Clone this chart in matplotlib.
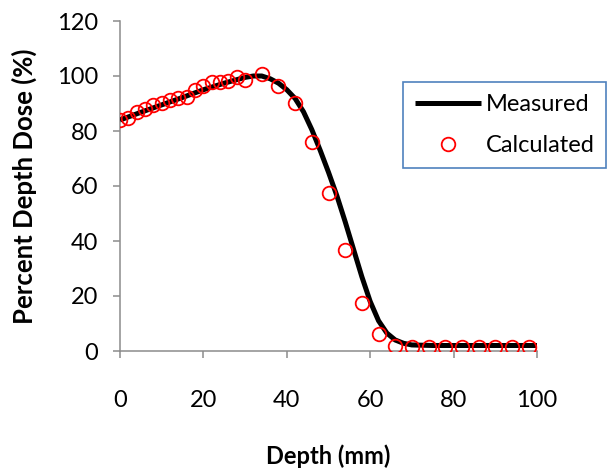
import matplotlib
matplotlib.use("Agg")
import matplotlib.pyplot as plt

plt.rcParams['font.family'] = ['Lato', 'DejaVu Sans']

# measured depth dose curve
measured_depth = [0, 5, 10, 15, 20, 25, 30, 32, 34, 36, 38, 40, 42, 44, 46, 48, 50,
                  52, 54, 56, 58, 60, 62, 64, 66, 68, 70, 75, 80, 90, 100]
measured_pdd = [84.0, 86.8, 89.5, 92.2, 95.0, 97.4, 99.5, 100.0, 100.0, 99.0, 97.4,
                95.0, 91.8, 87.0, 80.5, 73.0, 65.0, 56.5, 47.0, 37.0, 27.0, 18.0,
                11.0, 6.5, 4.0, 2.8, 2.2, 2.0, 2.0, 2.0, 2.0]

# calculated points
calc_depth = [0, 2, 4, 6, 8, 10, 12, 14, 16, 18, 20, 22, 24, 26, 28, 30,
              34, 38, 42, 46, 50, 54, 58, 62, 66, 70, 74, 78, 82, 86, 90, 94, 98]
calc_pdd = [84.0, 84.6, 87.0, 87.9, 89.5, 90.1, 91.3, 92.1, 92.5, 94.9, 96.4,
            97.9, 97.9, 98.2, 99.8, 98.5, 100.7, 96.4, 90.1, 76.1, 57.6, 36.7,
            17.3, 6.2, 1.8, 1.5, 1.5, 1.5, 1.5, 1.5, 1.5, 1.5, 1.5]

x_ticks = [0, 20, 40, 60, 80, 100]
y_ticks = [0, 20, 40, 60, 80, 100, 120]

fig = plt.figure(figsize=(6.10, 4.72), dpi=100)
ax = fig.add_axes([120 / 610, 1 - 351 / 472, 417 / 610, 330 / 472])

ax.plot(measured_depth, measured_pdd, color='black', lw=3.6, label='Measured',
        solid_capstyle='butt', zorder=2)
ax.plot(calc_depth, calc_pdd, ls='none', marker='o', ms=9.8, mfc='none',
        mec='red', mew=1.3, label='Calculated', zorder=3)

ax.set_xlim(0, 100)
ax.set_ylim(0, 120)
ax.set_xticks(x_ticks)
ax.set_yticks(y_ticks)

for s in ['top', 'right']:
    ax.spines[s].set_visible(False)
for s in ['left', 'bottom']:
    ax.spines[s].set_color('#8c8c8c')
    ax.spines[s].set_linewidth(1.1)
    ax.spines[s].set_zorder(1)

ax.tick_params(axis='both', direction='out', length=5, width=1.1,
               color='#8c8c8c', labelsize=17, labelcolor='black')
ax.tick_params(axis='x', pad=23)
ax.tick_params(axis='y', pad=11)

ax.set_xlabel('Depth (mm)', fontsize=17, fontweight='bold', labelpad=24)
ax.set_ylabel('Percent Depth Dose (%)', fontsize=18.5, fontweight='bold', labelpad=14)

leg = ax.legend(loc='upper left', bbox_to_anchor=(403 / 610, 1 - 82 / 472),
                bbox_transform=fig.transFigure, fontsize=17, frameon=True,
                fancybox=False, edgecolor='#4f81bd', framealpha=1,
                handlelength=2.8, handletextpad=0.2, labelspacing=0.85,
                borderpad=0.5, borderaxespad=0)
leg.get_frame().set_linewidth(1.2)

fig.savefig('out.png', dpi=100)
